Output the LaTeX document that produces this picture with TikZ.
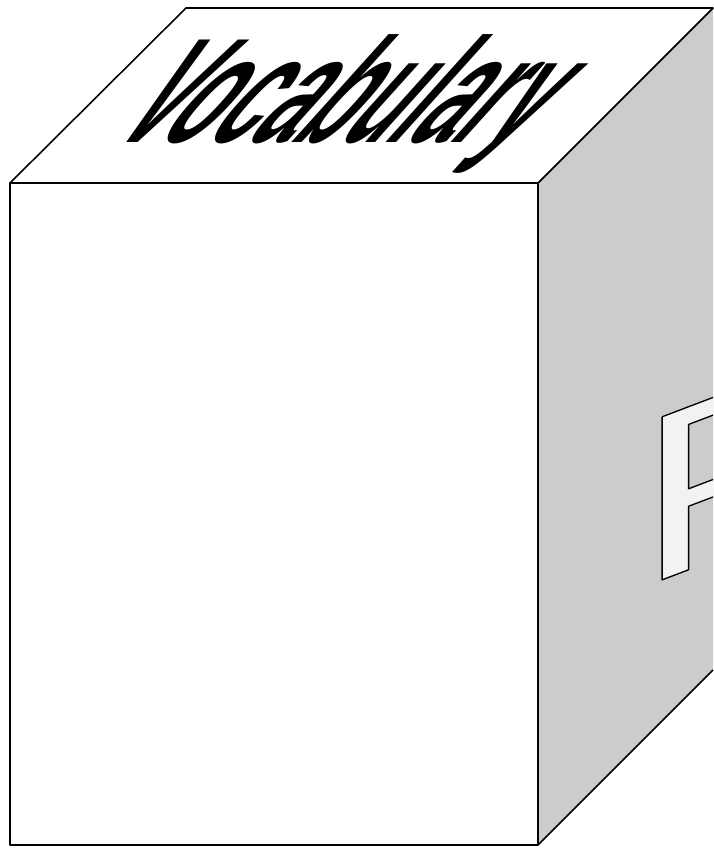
\documentclass[tikz,border=0pt]{standalone}
\usepackage{fontspec}
\usepackage{xcolor}
\usepackage{tikz}
\newfontfamily\vocabfont[FakeStretch=0.52]{Liberation Sans Bold}
\newfontfamily\pfont[FakeStretch=1.2]{Liberation Sans}
\definecolor{sidegray}{HTML}{CCCCCC}
\definecolor{letterfill}{HTML}{F2F2F2}
\newcommand{\outlined}[1]{{\color{letterfill}\special{pdf:code 0 0 0 RG 2 Tr 0.8 w}#1\special{pdf:code 0 Tr}}}

\begin{document}
\begin{tikzpicture}[x=0.02cm, y=-0.02cm, line width=0.9pt, line join=round,
    face/.style={draw=black, fill=white},
    side/.style={draw=black, fill=sidegray},
    facetext/.style={anchor=base west, inner sep=0pt, transform shape}]

        \useasboundingbox (0,0) rectangle (713,848);
        \coordinate (FTL) at (10,183);
        \coordinate (FTR) at (538,183);
        \coordinate (FBL) at (10,845);
        \coordinate (FBR) at (538,845);
        \coordinate (BTL) at (186,8);
        \coordinate (BTR) at (713,8);
        \coordinate (BBR) at (713,670);

        \fill[sidegray] (FTR) -- (BTR) -- (BBR) -- (FBR) -- cycle;
        \begin{scope}
            \clip (FTR) -- (BTR) -- (BBR) -- (FBR) -- cycle;
            \node[facetext, yslant=0.38, font=\pfont\fontsize{134.9}{140}\selectfont] (P) at (638,589) {\outlined{P}};
        \end{scope}
        \draw (BTR) -- (FTR) (BBR) -- (FBR) -- (FTR);
        \draw[face] (FTL) -- (BTL) -- (BTR) -- (FTR) -- cycle;
        \draw[face] (FTL) rectangle (FBR);

        \node[facetext, xslant=0.9, font=\vocabfont\fontsize{84.8}{90}\selectfont] (vocab) at (106,142) {Vocabulary};

\end{tikzpicture}
\end{document}
